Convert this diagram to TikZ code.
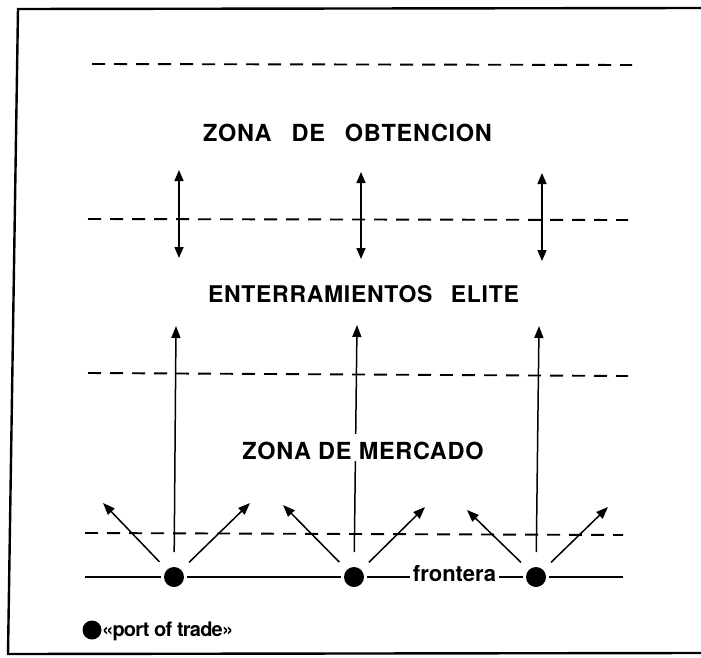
\documentclass[tikz,border=0pt]{standalone}
\usepackage{fontspec}
\setmainfont{TeX Gyre Heros}
\newfontfamily\zfont[LetterSpace=3]{TeX Gyre Heros}
\newfontfamily\lfont[LetterSpace=-4]{TeX Gyre Heros}
\usetikzlibrary{arrows.meta}
\begin{document}
\begin{tikzpicture}[x=1pt,y=-1pt,
  frame/.style={line width=2.4pt},
  zone/.style={line width=1.9pt, dash pattern=on 13pt off 9pt},
  arr/.style={line width=1.5pt,-{Triangle[length=12pt,width=9pt]}},
  darr/.style={line width=1.5pt,{Triangle[length=11pt,width=9pt]}-{Triangle[length=11pt,width=9pt]}},
  border/.style={line width=2pt},
  port/.style={circle,fill=black,inner sep=0pt,minimum size=20pt,outer sep=3pt},
  zlabel/.style={anchor=base,inner sep=0pt,font=\zfont\bfseries\fontsize{23.5}{28}\selectfont},
]
\useasboundingbox (0,0) rectangle (701,658);
\fill[white] (0,0) rectangle (701,658);

% frame
\coordinate (ftl) at (18,9);
\coordinate (ftr) at (701,8);
\coordinate (fbl) at (8,654);
\coordinate (fbr) at (701,653);
\draw[frame] (ftr) -- (ftl) -- (fbl) -- (fbr);

% dashed zone limits
\coordinate (z1a) at (92,64);  \coordinate (z1b) at (632,65);
\coordinate (z2a) at (88,219); \coordinate (z2b) at (628,220);
\coordinate (z3a) at (88,373); \coordinate (z3b) at (628,376);
\coordinate (z4a) at (85,533); \coordinate (z4b) at (623,535);
\draw[zone] (z1a) -- (z1b);
\draw[zone] (z2a) -- (z2b);
\draw[zone] (z3a) -- (z3b);
\draw[zone] (z4a) -- (z4b);

% ports of trade
\node[port] (p1) at (174,577) {};
\node[port] (p2) at (354,577) {};
\node[port] (p3) at (536,577) {};

% frontera line
\coordinate (fl) at (85,577);
\coordinate (fr) at (623,577);
\node[anchor=base,inner xsep=3pt,inner ysep=1pt,font=\bfseries\fontsize{22}{26}\selectfont] (front) at (454.5,581.5) {frontera};
\draw[border] (fl) -- (p1);
\draw[border] (p1) -- (p2);
\draw[border] (p2) -- (front.west |- p2);
\draw[border] (front.east |- p3) -- (p3);
\draw[border] (p3) -- (fr);

% double arrows
\coordinate (u1a) at (179,170); \coordinate (u1b) at (179,258);
\coordinate (u2a) at (361,172); \coordinate (u2b) at (361,259);
\coordinate (u3a) at (542,173); \coordinate (u3b) at (542,261);
\draw[darr] (u1a) -- (u1b);
\draw[darr] (u2a) -- (u2b);
\draw[darr] (u3a) -- (u3b);

% long vertical arrows
\coordinate (t1) at (176,326);
\coordinate (t2) at (357,325);
\coordinate (t3) at (539,326);
\draw[arr,shorten <=12pt] (p1) -- (t1);
\draw[arr,shorten <=12pt] (p2) -- (t2);
\draw[arr,shorten <=12pt] (p3) -- (t3);

% diagonal arrows
\coordinate (l1) at (103,503); \coordinate (r1) at (250,503);
\coordinate (l2) at (283,505); \coordinate (r2) at (425,507);
\coordinate (l3) at (467,510); \coordinate (r3) at (608,507);
\draw[arr,shorten <=8pt] (p1) -- (l1);
\draw[arr,shorten <=8pt] (p1) -- (r1);
\draw[arr,shorten <=8pt] (p2) -- (l2);
\draw[arr,shorten <=8pt] (p2) -- (r2);
\draw[arr,shorten <=8pt] (p3) -- (l3);
\draw[arr,shorten <=8pt] (p3) -- (r3);

% zone labels
\node[zlabel] (obt) at (347.5,141.5) {ZONA\hspace{0.85em}DE\hspace{0.85em}OBTENCION};
\node[zlabel,font=\zfont\bfseries\fontsize{23}{27}\selectfont] (eli) at (363.5,302) {ENTERRAMIENTOS\hspace{0.8em}ELITE};
\node[zlabel,fill=white,text height=25pt,text depth=2pt] (mer) at (363,459) {ZONA DE MERCADO};

% legend
\node[port,minimum size=19pt,outer sep=0pt] (lp) at (92,630) {};
\node[anchor=base west,inner sep=0pt,font=\lfont\bfseries\fontsize{20}{24}\selectfont] (lt) at (102,636) {«port of trade»};
\end{tikzpicture}
\end{document}
